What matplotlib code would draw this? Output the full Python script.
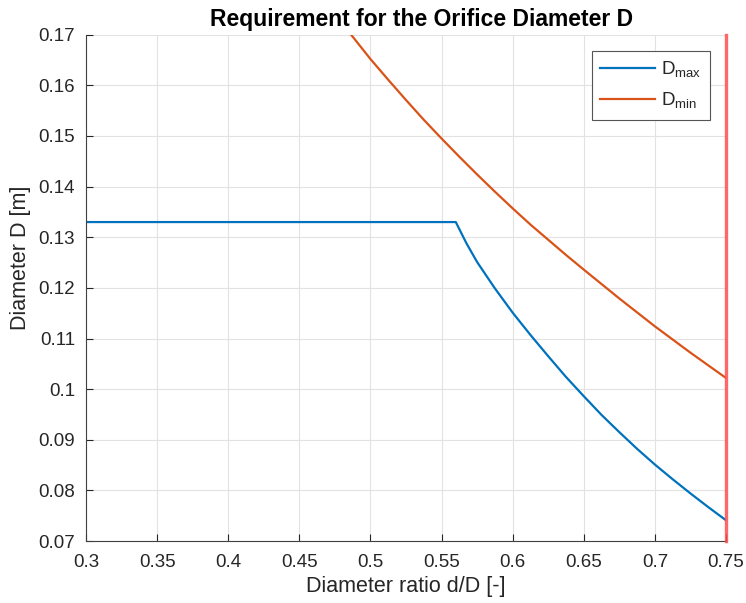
import matplotlib
matplotlib.use('Agg')
import matplotlib.pyplot as plt

plt.rcParams['font.family'] = ['Liberation Sans', 'DejaVu Sans']
plt.rcParams['mathtext.fontset'] = 'custom'
plt.rcParams['mathtext.rm'] = 'Liberation Sans'

# diameter ratio beta = d/D and the resulting pipe diameter limits
beta_max = [0.30, 0.35, 0.40, 0.45, 0.50, 0.56, 0.5675, 0.575, 0.5875, 0.60,
            0.6125, 0.625, 0.6375, 0.65, 0.6625, 0.675, 0.6875, 0.70, 0.7125,
            0.725, 0.7375, 0.75]
d_max = [0.133, 0.133, 0.133, 0.133, 0.133, 0.133, 0.1288, 0.1251, 0.1199,
         0.1151, 0.1107, 0.1065, 0.1024, 0.0986, 0.0949, 0.0915, 0.0882,
         0.0851, 0.0822, 0.0794, 0.0767, 0.0741]

beta_min = [0.4864, 0.50, 0.5125, 0.525, 0.5375, 0.55, 0.5625, 0.575, 0.5875,
            0.60, 0.6125, 0.625, 0.6375, 0.65, 0.675, 0.70, 0.725, 0.75]
d_min = [0.170, 0.1652, 0.1611, 0.1571, 0.1532, 0.1495, 0.1459, 0.1424,
         0.1390, 0.1357, 0.1325, 0.1295, 0.1265, 0.1236, 0.1179, 0.1124,
         0.1072, 0.1022]

beta_limit = 0.75

xticks = [0.3, 0.35, 0.4, 0.45, 0.5, 0.55, 0.6, 0.65, 0.7, 0.75]
yticks = [0.07, 0.08, 0.09, 0.1, 0.11, 0.12, 0.13, 0.14, 0.15, 0.16, 0.17]

txt = '#262626'

fig = plt.figure(figsize=(7.46, 6.03), dpi=100)
ax = fig.add_axes([0.1153, 0.1028, 0.8579, 0.8396])

ax.plot(beta_max, d_max, color='#0072BD', lw=1.6, label=r'D$_{\mathrm{max}}$')
ax.plot(beta_min, d_min, color='#D95319', lw=1.6, label=r'D$_{\mathrm{min}}$')
ax.axvline(beta_limit, color='#ff4d4d', lw=2.4, alpha=0.85, zorder=5,
           clip_on=False)

ax.set_xlim(0.3, 0.75)
ax.set_ylim(0.07, 0.17)
ax.set_xticks(xticks)
ax.set_xticklabels([f'{v:g}' for v in xticks])
ax.set_yticks(yticks)
ax.set_yticklabels([f'{v:g}' for v in yticks])

ax.grid(True, color='#e2e2e2', lw=0.8)
ax.set_axisbelow(True)
ax.tick_params(axis='x', direction='in', length=5, width=0.8, labelsize=13.5,
               colors=txt, pad=9)
ax.tick_params(axis='y', direction='in', length=5, width=0.8, labelsize=13.5,
               colors=txt, pad=8)
ax.spines['top'].set_visible(False)
ax.spines['right'].set_visible(False)
for s in ('left', 'bottom'):
    ax.spines[s].set_color('#404040')
    ax.spines[s].set_linewidth(0.8)

ax.set_xlabel('Diameter ratio d/D [-]', fontsize=15.5, color=txt, labelpad=4)
ax.set_ylabel('Diameter D [m]', fontsize=15.5, color=txt)
ax.yaxis.set_label_coords(-0.086, 0.56)
ax.set_title('Requirement for the Orifice Diameter D', fontsize=16.5,
             fontweight='bold', pad=6, x=0.525)

leg = ax.legend(loc='upper right', bbox_to_anchor=(0.975, 0.968),
                borderaxespad=0, fontsize=13.5, fancybox=False,
                edgecolor='#555555', framealpha=1, handlelength=2.9,
                handletextpad=0.35, borderpad=0.45, labelspacing=0.6)
leg.get_frame().set_linewidth(0.8)
for t in leg.get_texts():
    t.set_color(txt)

fig.savefig('out.png', dpi=100)
